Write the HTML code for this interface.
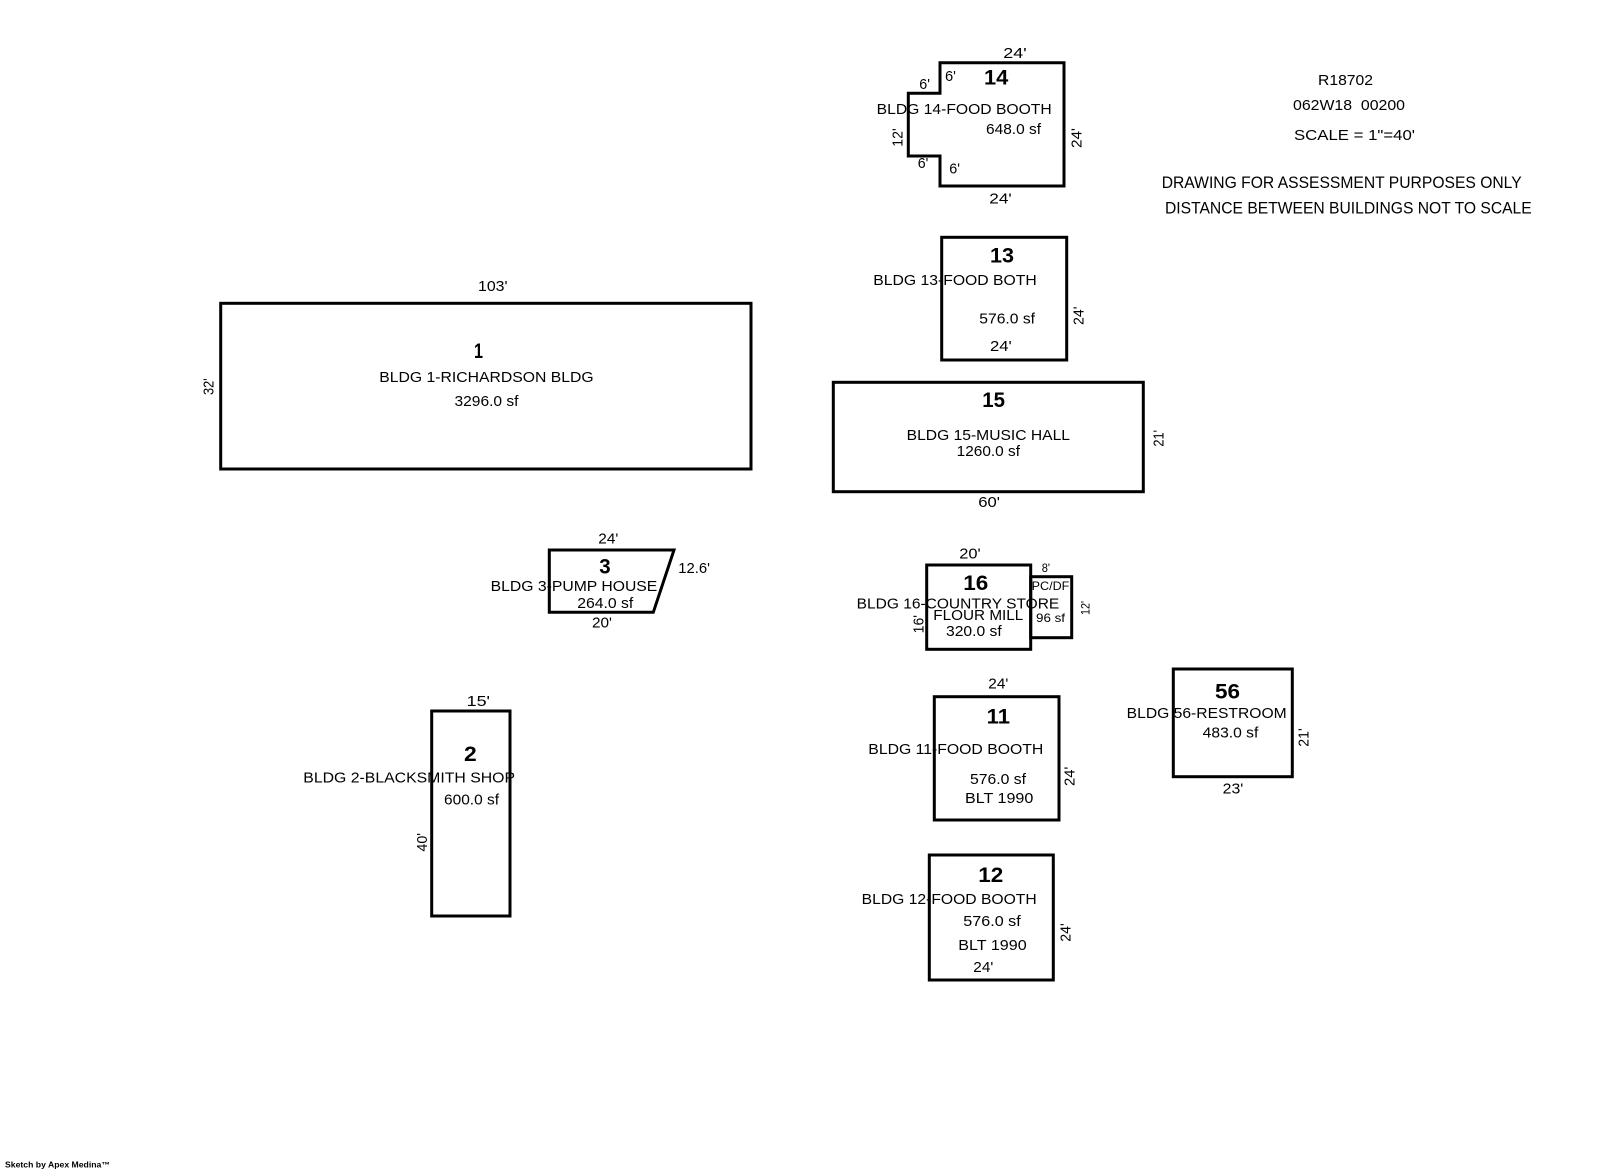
<!DOCTYPE html>
<html>
<head>
<meta charset="utf-8">
<style>
html,body{margin:0;padding:0;background:#fff;}
svg{display:block;}
text{font-family:"Liberation Sans",Arial,sans-serif;fill:#000;}
.t{font-size:15px;}
.b{font-size:21px;font-weight:bold;}
.s{font-size:12px;}
.n{font-size:16.5px;}
</style>
</head>
<body>
<svg width="1600" height="1174" viewBox="0 0 1600 1174" xmlns="http://www.w3.org/2000/svg">
<rect x="0" y="0" width="1600" height="1174" fill="#fff"/>
<g fill="none" stroke="#000" stroke-width="3" stroke-linejoin="miter">
  <polygon points="940,62.7 1064,62.7 1064,186 940,186 940,156 908.3,156 908.3,93.3 940,93.3"/>
  <rect x="941.7" y="237.3" width="125" height="122.7"/>
  <rect x="833.3" y="382.3" width="310" height="109.4"/>
  <rect x="220.7" y="303.3" width="530.3" height="165.7"/>
  <polygon points="549.3,550 674,550 653.3,612.3 549.3,612.3"/>
  <rect x="926.7" y="565" width="104" height="84.3"/>
  <rect x="1030.7" y="576.7" width="41" height="61"/>
  <rect x="934.3" y="696.7" width="124.7" height="123.3"/>
  <rect x="1173.3" y="669" width="119" height="107.7"/>
  <rect x="431.7" y="711" width="78.3" height="205"/>
  <rect x="929.3" y="855" width="124" height="125"/>
</g>

<g transform="translate(0,-1.5)">
<text class="t" x="1318" y="86.3" textLength="55" lengthAdjust="spacingAndGlyphs">R18702</text>
<text class="t" x="1293" y="111.3" textLength="112" lengthAdjust="spacingAndGlyphs">062W18&#160;&#160;00200</text>
<text class="t" x="1294" y="141.7" textLength="121" lengthAdjust="spacingAndGlyphs">SCALE = 1"=40'</text>
<text class="n" x="1161.7" y="189.5" textLength="360" lengthAdjust="spacingAndGlyphs">DRAWING FOR ASSESSMENT PURPOSES ONLY</text>
<text class="n" x="1165" y="215.2" textLength="366.7" lengthAdjust="spacingAndGlyphs">DISTANCE BETWEEN BUILDINGS NOT TO SCALE</text>

<text class="t" x="1003.3" y="59.3" textLength="23.4" lengthAdjust="spacingAndGlyphs">24'</text>
<text class="b" x="984" y="86" textLength="24.3" lengthAdjust="spacingAndGlyphs">14</text>
<text class="t" x="919.3" y="90.7" textLength="10.7" lengthAdjust="spacingAndGlyphs">6'</text>
<text class="t" x="945" y="82.7" textLength="11" lengthAdjust="spacingAndGlyphs">6'</text>
<text class="t" x="876.7" y="115.7" textLength="175" lengthAdjust="spacingAndGlyphs">BLDG 14-FOOD BOOTH</text>
<text class="t" x="986" y="135.7" textLength="55" lengthAdjust="spacingAndGlyphs">648.0 sf</text>
<text class="t" text-anchor="middle" transform="translate(902.7,139) rotate(-90)" textLength="18.4" lengthAdjust="spacingAndGlyphs">12'</text>
<text class="t" text-anchor="middle" transform="translate(1081.4,139.5) rotate(-90)" textLength="20" lengthAdjust="spacingAndGlyphs">24'</text>
<text class="t" x="917.7" y="169.3" textLength="10.6" lengthAdjust="spacingAndGlyphs">6'</text>
<text class="t" x="949.3" y="175" textLength="10.7" lengthAdjust="spacingAndGlyphs">6'</text>
<text class="t" x="989.3" y="205" textLength="22.4" lengthAdjust="spacingAndGlyphs">24'</text>

<text class="b" x="990" y="264" textLength="24" lengthAdjust="spacingAndGlyphs">13</text>
<text class="t" x="873.3" y="286.7" textLength="163.4" lengthAdjust="spacingAndGlyphs">BLDG 13-FOOD BOTH</text>
<text class="t" x="979.3" y="325" textLength="55.7" lengthAdjust="spacingAndGlyphs">576.0 sf</text>
<text class="t" x="990" y="352.7" textLength="21.7" lengthAdjust="spacingAndGlyphs">24'</text>
<text class="t" text-anchor="middle" transform="translate(1083.7,317.3) rotate(-90)" textLength="18.4" lengthAdjust="spacingAndGlyphs">24'</text>

<text class="b" x="982.3" y="408.3" textLength="22.7" lengthAdjust="spacingAndGlyphs">15</text>
<text class="t" x="906.7" y="441.7" textLength="163.3" lengthAdjust="spacingAndGlyphs">BLDG 15-MUSIC HALL</text>
<text class="t" x="956.7" y="457.3" textLength="63.3" lengthAdjust="spacingAndGlyphs">1260.0 sf</text>
<text class="t" text-anchor="middle" transform="translate(1163.7,439.8) rotate(-90)" textLength="16.7" lengthAdjust="spacingAndGlyphs">21'</text>
<text class="t" x="978.3" y="508.3" textLength="21.7" lengthAdjust="spacingAndGlyphs">60'</text>

<text class="t" x="478" y="292.7" textLength="29.5" lengthAdjust="spacingAndGlyphs">103'</text>
<text class="b" x="474" y="359.3" textLength="9" lengthAdjust="spacingAndGlyphs">1</text>
<text class="t" x="379.3" y="383.3" textLength="214.3" lengthAdjust="spacingAndGlyphs">BLDG 1-RICHARDSON BLDG</text>
<text class="t" x="454.5" y="407.3" textLength="64" lengthAdjust="spacingAndGlyphs">3296.0 sf</text>
<text class="t" text-anchor="middle" transform="translate(213.7,388.2) rotate(-90)" textLength="16.7" lengthAdjust="spacingAndGlyphs">32'</text>

<text class="t" x="598.3" y="545" textLength="20" lengthAdjust="spacingAndGlyphs">24'</text>
<text class="b" x="599.3" y="575" textLength="11.4" lengthAdjust="spacingAndGlyphs">3</text>
<text class="t" x="678.3" y="574.3" textLength="31.7" lengthAdjust="spacingAndGlyphs">12.6'</text>
<text class="t" x="490.7" y="592.3" textLength="166.6" lengthAdjust="spacingAndGlyphs">BLDG 3-PUMP HOUSE</text>
<text class="t" x="577.3" y="609.3" textLength="56" lengthAdjust="spacingAndGlyphs">264.0 sf</text>
<text class="t" x="592" y="629" textLength="20" lengthAdjust="spacingAndGlyphs">20'</text>

<text class="t" x="959.3" y="560" textLength="21.4" lengthAdjust="spacingAndGlyphs">20'</text>
<text class="b" x="963.3" y="591.7" textLength="25" lengthAdjust="spacingAndGlyphs">16</text>
<text class="s" x="1041.7" y="573.3" textLength="8.3" lengthAdjust="spacingAndGlyphs">8'</text>
<text class="s" x="1031.7" y="591.7" textLength="37.6" lengthAdjust="spacingAndGlyphs">PC/DF</text>
<text class="t" x="856.7" y="610" textLength="202.6" lengthAdjust="spacingAndGlyphs">BLDG 16-COUNTRY STORE</text>
<text class="t" x="933.3" y="621.7" textLength="90" lengthAdjust="spacingAndGlyphs">FLOUR MILL</text>
<text class="s" x="1036" y="623.3" textLength="29" lengthAdjust="spacingAndGlyphs">96 sf</text>
<text class="t" x="946" y="637.7" textLength="55.7" lengthAdjust="spacingAndGlyphs">320.0 sf</text>
<text class="t" text-anchor="middle" transform="translate(923.7,625.7) rotate(-90)" textLength="18.3" lengthAdjust="spacingAndGlyphs">16'</text>
<text class="s" text-anchor="middle" transform="translate(1089.5,609.5) rotate(-90)" textLength="14" lengthAdjust="spacingAndGlyphs">12'</text>

<text class="t" x="988.3" y="690" textLength="20" lengthAdjust="spacingAndGlyphs">24'</text>
<text class="b" x="986.7" y="725" textLength="23.3" lengthAdjust="spacingAndGlyphs">11</text>
<text class="t" x="868.3" y="755.7" textLength="175" lengthAdjust="spacingAndGlyphs">BLDG 11-FOOD BOOTH</text>
<text class="t" x="970" y="785.7" textLength="56" lengthAdjust="spacingAndGlyphs">576.0 sf</text>
<text class="t" x="965" y="804.3" textLength="68.3" lengthAdjust="spacingAndGlyphs">BLT 1990</text>
<text class="t" text-anchor="middle" transform="translate(1074.7,777.8) rotate(-90)" textLength="19.3" lengthAdjust="spacingAndGlyphs">24'</text>

<text class="b" x="1215" y="700" textLength="25" lengthAdjust="spacingAndGlyphs">56</text>
<text class="t" x="1126.7" y="719.3" textLength="160" lengthAdjust="spacingAndGlyphs">BLDG 56-RESTROOM</text>
<text class="t" x="1202.7" y="739" textLength="55.6" lengthAdjust="spacingAndGlyphs">483.0 sf</text>
<text class="t" text-anchor="middle" transform="translate(1308.7,739) rotate(-90)" textLength="18.4" lengthAdjust="spacingAndGlyphs">21'</text>
<text class="t" x="1222.7" y="795" textLength="20.6" lengthAdjust="spacingAndGlyphs">23'</text>

<text class="t" x="466.7" y="707.3" textLength="23.3" lengthAdjust="spacingAndGlyphs">15'</text>
<text class="b" x="464" y="762.7" textLength="12.7" lengthAdjust="spacingAndGlyphs">2</text>
<text class="t" x="303.3" y="784" textLength="211.7" lengthAdjust="spacingAndGlyphs">BLDG 2-BLACKSMITH SHOP</text>
<text class="t" x="444" y="806" textLength="55" lengthAdjust="spacingAndGlyphs">600.0 sf</text>
<text class="t" text-anchor="middle" transform="translate(427.1,843.8) rotate(-90)" textLength="18.7" lengthAdjust="spacingAndGlyphs">40'</text>

<text class="b" x="978.3" y="883.3" textLength="25" lengthAdjust="spacingAndGlyphs">12</text>
<text class="t" x="861.7" y="905.7" textLength="175" lengthAdjust="spacingAndGlyphs">BLDG 12-FOOD BOOTH</text>
<text class="t" x="963.3" y="927.3" textLength="57.4" lengthAdjust="spacingAndGlyphs">576.0 sf</text>
<text class="t" x="958.3" y="951.7" textLength="68.4" lengthAdjust="spacingAndGlyphs">BLT 1990</text>
<text class="t" x="973.3" y="973.3" textLength="20" lengthAdjust="spacingAndGlyphs">24'</text>
<text class="t" text-anchor="middle" transform="translate(1070.4,934) rotate(-90)" textLength="18.4" lengthAdjust="spacingAndGlyphs">24'</text>

<text x="5" y="1169" style="font-size:8px;font-weight:bold;" textLength="105" lengthAdjust="spacingAndGlyphs">Sketch by Apex Medina™</text>
</g>
</svg>
</body>
</html>
